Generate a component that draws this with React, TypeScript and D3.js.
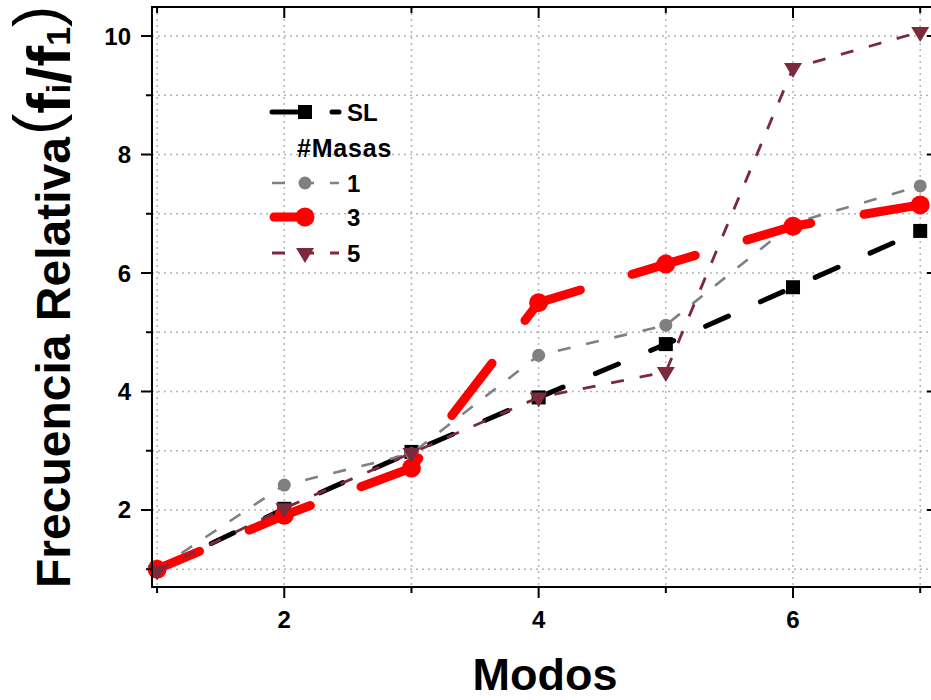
import React from "react";
import * as d3 from "d3";

const modos = [1, 2, 3, 4, 5, 6, 7];
const sl = [1.0, 2.02, 2.98, 3.9, 4.8, 5.76, 6.71];
const masas1 = [1.0, 2.42, 2.95, 4.61, 5.12, 6.84, 7.47];
const masas3 = [1.0, 1.91, 2.71, 5.5, 6.15, 6.79, 7.15];
const masas5 = [0.98, 2.03, 2.96, 3.9, 4.33, 9.46, 10.07];

const yMajor = [2, 4, 6, 8, 10];
const yMinor = [1, 3, 5, 7, 9];
const xMajor = [2, 4, 6];
const xMinor = [1, 3, 5, 7];
const gridX = [1, 2, 3, 4, 5, 6, 7];
const gridY = [1, 2, 3, 4, 5, 6, 7, 8, 9, 10];

const FONT = "'Liberation Sans', Arial, sans-serif";

const W = 931;
const H = 700;
const left = 152;
const right = 938;
const top = 7;
const bottom = 587;

const x = d3.scaleLinear().domain([0.96, 7.14]).range([left, right]);
const y = d3.scaleLinear().domain([0.7, 10.49]).range([bottom, top]);

type Series = {
  label: string;
  values: number[];
  color: string;
  width: number;
  dash: string;
  offset: number;
  cap: "round" | "butt";
  marker: "square" | "circle" | "triangle";
  size: number;
};

const series: Series[] = [
  { label: "SL", values: sl, color: "#000000", width: 5, dash: "25 35", offset: 0, cap: "round", marker: "square", size: 14 },
  { label: "1", values: masas1, color: "#808080", width: 2.6, dash: "13 16", offset: 0, cap: "butt", marker: "circle", size: 6.5 },
  { label: "3", values: masas3, color: "#ff0000", width: 9, dash: "66 54", offset: 20, cap: "round", marker: "circle", size: 9.5 },
  { label: "5", values: masas5, color: "#7b2a3e", width: 2.8, dash: "13 16", offset: 0, cap: "butt", marker: "triangle", size: 18 },
];

function Marker({ s, cx, cy }: { s: Series; cx: number; cy: number }) {
  if (s.marker === "square") {
    return <rect x={cx - s.size / 2} y={cy - s.size / 2} width={s.size} height={s.size} fill={s.color} />;
  }
  if (s.marker === "circle") {
    return <circle cx={cx} cy={cy} r={s.size} fill={s.color} />;
  }
  const w = s.size;
  const h = 15;
  return (
    <path
      d={`M${cx - w / 2},${cy - h / 3}L${cx + w / 2},${cy - h / 3}L${cx},${cy + (2 * h) / 3}Z`}
      fill={s.color}
    />
  );
}

export default function App() {
  const line = d3
    .line<number>()
    .x((_, i) => x(modos[i]))
    .y((d) => y(d));

  const legendRows = [
    { s: series[0], cy: 112 },
    { s: series[1], cy: 183 },
    { s: series[2], cy: 217 },
    { s: series[3], cy: 253 },
  ];

  return (
    <svg
      width={W}
      height={H}
      style={{ position: "absolute", left: 0, top: 0, background: "#fff" }}
      fontFamily={FONT}
    >
      {/* grid */}
      <g stroke="#b4b4b4" strokeWidth={1.5} strokeDasharray="2 4">
        {gridY.map((v) => (
          <line key={"gy" + v} x1={left} x2={right} y1={y(v)} y2={y(v)} />
        ))}
        {gridX.map((v) => (
          <line key={"gx" + v} x1={x(v)} x2={x(v)} y1={top} y2={bottom} />
        ))}
      </g>

      {/* series lines */}
      {series.map((s) => (
        <g key={s.label}>
          <path
            d={line(s.values) || ""}
            fill="none"
            stroke={s.color}
            strokeWidth={s.width}
            strokeDasharray={s.dash}
            strokeDashoffset={s.offset}
            strokeLinecap={s.cap}
            strokeLinejoin="round"
          />
          {s.values.map((v, i) => (
            <Marker key={i} s={s} cx={x(modos[i])} cy={y(v)} />
          ))}
        </g>
      ))}

      {/* frame */}
      <rect x={left} y={top} width={right - left} height={bottom - top} fill="none" stroke="#000" strokeWidth={2} />

      {/* ticks */}
      <g stroke="#000" strokeWidth={2}>
        {yMajor.map((v) => (
          <g key={"ym" + v}>
            <line x1={left - 11} x2={left} y1={y(v)} y2={y(v)} />
            <line x1={right - 11} x2={right} y1={y(v)} y2={y(v)} />
          </g>
        ))}
        {yMinor.map((v) => (
          <g key={"yn" + v}>
            <line x1={left - 6} x2={left} y1={y(v)} y2={y(v)} />
            <line x1={right - 6} x2={right} y1={y(v)} y2={y(v)} />
          </g>
        ))}
        {xMajor.map((v) => (
          <g key={"xm" + v}>
            <line x1={x(v)} x2={x(v)} y1={bottom} y2={bottom + 11} />
            <line x1={x(v)} x2={x(v)} y1={top} y2={top + 11} />
          </g>
        ))}
        {xMinor.map((v) => (
          <g key={"xn" + v}>
            <line x1={x(v)} x2={x(v)} y1={bottom} y2={bottom + 6} />
            <line x1={x(v)} x2={x(v)} y1={top} y2={top + 6} />
          </g>
        ))}
      </g>

      {/* tick labels */}
      <g fontSize={24} fontWeight="bold" fill="#000">
        {yMajor.map((v) => (
          <text key={"yl" + v} x={131} y={y(v) + 8.5} textAnchor="end">
            {v}
          </text>
        ))}
      </g>
      <g fontSize={24} fontWeight="bold" fill="#000">
        {xMajor.map((v) => (
          <text key={"xl" + v} x={x(v)} y={628} textAnchor="middle">
            {v}
          </text>
        ))}
      </g>

      {/* axis titles */}
      <text x={545} y={690} textAnchor="middle" fontSize={45} fontWeight="bold">
        Modos
      </text>
      <text transform="translate(70,588) rotate(-90)" fontSize={48} fontWeight="bold">
        Frecuencia Relativa
        <tspan fontWeight="normal" fontSize={64} dx={2} dy={-11}>(</tspan>
        <tspan fontSize={62} dy={11}>f</tspan>
        <tspan fontSize={34}>i</tspan>
        <tspan fontSize={62}>/f</tspan>
        <tspan fontSize={34}>1</tspan>
        <tspan fontWeight="normal" fontSize={64} dy={-11}>)</tspan>
      </text>

      {/* legend */}
      <g>
        {legendRows.map(({ s, cy }) => (
          <g key={"lg" + s.label}>
            <line
              x1={s.label === "3" ? 274 : 272}
              x2={s.label === "3" ? 305 : 339}
              y1={cy}
              y2={cy}
              stroke={s.color}
              strokeWidth={s.width}
              strokeDasharray={s.label === "3" ? undefined : s.dash}
              strokeLinecap={s.cap}
            />
            <Marker s={s} cx={305} cy={cy} />
            <text x={347} y={cy + 8.5} fontSize={24} fontWeight="bold">
              {s.label}
            </text>
          </g>
        ))}
        <text x={297} y={157} fontSize={25} fontWeight="bold" letterSpacing={0.8}>
          #Masas
        </text>
      </g>
    </svg>
  );
}
